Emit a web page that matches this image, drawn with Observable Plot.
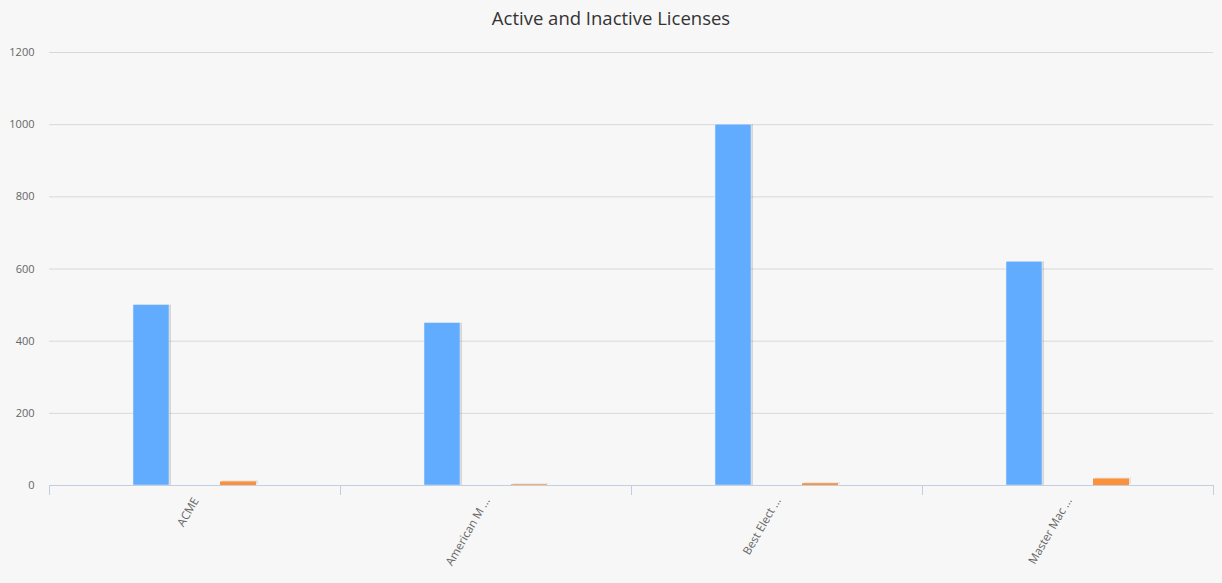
<!DOCTYPE html>
<html>
<head>
<meta charset="utf-8">
<script src="https://cdn.jsdelivr.net/npm/d3@7"></script>
<script src="https://cdn.jsdelivr.net/npm/@observablehq/plot@0.6"></script>
<style>
  html, body { margin: 0; padding: 0; background: #f7f7f7; }
  #title { height: 36px; line-height: 36px; text-align: center; font-family: "Open Sans", sans-serif; font-size: 18.5px; color: #333; }
  #chart svg { display: block; }
</style>
</head>
<body>
<div id="title">Active and Inactive Licenses</div>
<div id="chart"></div>
<script>
const categories = ["ACME", "American M ...", "Best Elect ...", "Master Mac ..."];
const activeValues = [500, 450, 1000, 620];
const inactiveValues = [10, 2, 5, 18];
const yTicks = [0, 200, 400, 600, 800, 1000, 1200];

const activeData = categories.map((c, i) => ({category: c, value: activeValues[i]}));
const inactiveData = categories.map((c, i) => ({category: c, value: inactiveValues[i]}));

const W = 1222, mL = 49, mR = 9;
const band = (W - mL - mR) / categories.length;
const barW = 36, offset = 43.5;
const inset = (band - barW) / 2;

const chart = Plot.plot({
  width: W,
  height: 547,
  marginLeft: mL,
  marginRight: mR,
  marginTop: 16,
  marginBottom: 98,
  style: {background: "#f7f7f7", fontFamily: "'Open Sans', sans-serif", fontSize: "11px", color: "#666"},
  x: {domain: categories, padding: 0, round: false, axis: null},
  y: {domain: [0, 1200], axis: null},
  marks: [
    Plot.gridY(yTicks, {stroke: "#d8d8d8", strokeOpacity: 1}),
    Plot.axisY(yTicks, {tickSize: 0, tickPadding: 15, fill: "#666", fontSize: 11, tickFormat: d => String(d), label: null}),
    // shadows
    Plot.barY(activeData, {x: "category", y: "value", fill: "#000", fillOpacity: 0.13, insetLeft: inset, insetRight: inset, dx: -offset + 2}),
    Plot.barY(inactiveData, {x: "category", y: "value", fill: "#000", fillOpacity: 0.08, insetLeft: inset, insetRight: inset, dx: offset + 2, dy: -1}),
    Plot.barY(activeData, {x: "category", y: "value", fill: "#61acff", stroke: "#eeeeee", strokeWidth: 0.5, insetLeft: inset, insetRight: inset, dx: -offset}),
    Plot.barY(inactiveData, {x: "category", y: "value", fill: "#fc913a", insetLeft: inset, insetRight: inset, dx: offset}),
    Plot.ruleY([0], {stroke: "#c0d0e0"}),
    Plot.axisX(categories, {tickSize: 10, stroke: "#c0d0e0", tickFormat: () => "", dx: -band / 2, label: null}),
    Plot.axisX([categories[categories.length - 1]], {tickSize: 10, stroke: "#c0d0e0", tickFormat: () => "", dx: band / 2, label: null}),
    Plot.axisX(categories, {tickSize: 0, tickRotate: -60, tickPadding: 8, dx: 1, dy: 5, fill: "#666", fontSize: 11.5, label: null})
  ]
});
document.getElementById("chart").appendChild(chart);
</script>
</body>
</html>
